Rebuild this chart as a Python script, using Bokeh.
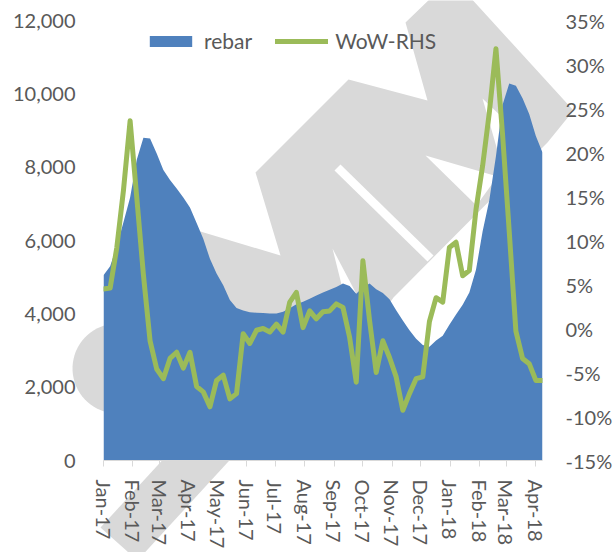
import numpy as np
import pandas as pd
from bokeh.plotting import figure
from bokeh.models import (ColumnDataSource, Range1d, LinearAxis, FixedTicker,
                          NumeralTickFormatter, DatetimeTickFormatter, Legend, GridBox, Column)
from bokeh.embed import file_html
from bokeh.resources import INLINE

# ---------------- data ----------------
start_date = "2017-01-06"
n_weeks = 67
rebar = [5050, 5300, 5850, 6500, 7170, 8200, 8800, 8780, 8370, 7920,
         7650, 7420, 7170, 6900, 6480, 6050, 5500, 5100, 4780, 4380,
         4160, 4090, 4040, 4030, 4020, 4010, 4010, 4060, 4150, 4260,
         4330, 4410, 4500, 4580, 4660, 4730, 4830, 4760, 4550, 4720,
         4830, 4670, 4570, 4400, 4100, 3820, 3550, 3320, 3150, 3100,
         3270, 3400, 3700, 3980, 4250, 4580, 5200, 6250, 7100, 8300,
         9700, 10280, 10220, 9880, 9450, 8850, 8400]
wow_pct = [4.5, 4.6, 9.2, 15.7, 23.6, 14.9, 6.1, -1.4, -4.6, -5.7,
           -3.4, -2.7, -4.5, -2.7, -6.6, -7.2, -8.9, -5.9, -5.3, -8.0,
           -7.4, -0.6, -1.7, -0.2, 0.0, -0.4, 0.5, -0.4, 3.0, 4.1,
           0.1, 2.0, 1.1, 1.9, 2.0, 2.8, 2.4, -1.0, -6.1, 7.7,
           0.9, -5.0, -1.4, -3.3, -5.5, -9.3, -7.4, -5.7, -5.5, 0.8,
           3.5, 3.0, 9.2, 9.8, 6.0, 6.6, 13.5, 18.5, 24.5, 31.8,
           22.0, 11.0, -0.3, -3.4, -4.0, -5.9, -5.9]
rebar_ticks = [0, 2000, 4000, 6000, 8000, 10000, 12000]
pct_ticks = [-15, -10, -5, 0, 5, 10, 15, 20, 25, 30, 35]
month_tick_start = "2017-01-06"
month_tick_end = "2018-04-06"

dates = pd.date_range(start_date, periods=n_weeks, freq="7D")
src = ColumnDataSource(dict(date=dates, rebar=rebar, wow=[v / 100 for v in wow_pct]))

# ---------------- styles ----------------
FONT = "Lato"
TXT = "#595959"
BLUE = "#4f81bd"
GREEN = "#9bbb59"
WM = "#d9d9d9"
W, H = 616, 552

# ---------------- background watermark (decorative, page px) ----------------
th = np.linspace(0, 2 * np.pi, 72)
wm_shapes = [
    ([(190, 228), (280, 255), (255, 172), (348, 79), (427, 100), (405, 22),
      (433, -5), (468, -5), (573, 110), (547, 142), (393, 297), (370, 330),
      (190, 330)], WM),
    ([(100, 527), (137, 560), (250, 437), (213, 404)], WM),
    (list(zip(117 + 45 * np.cos(th), 368 + 45 * np.sin(th))), WM),
    ([(340, 164), (433, 255), (427, 261), (334, 170)], "white"),
    ([(332, 248), (345, 300), (362, 305)], "white"),
    ([(425, 155), (497, 176), (476, 205)], "white"),
    ([(482, 98), (497, 150), (505, 120)], "white"),
]
bg = figure(width=W, height=H, output_backend="svg", toolbar_location=None,
            x_range=Range1d(0, W), y_range=Range1d(H, 0), min_border=0,
            x_axis_location=None, y_axis_location=None)
bg.outline_line_color = None
bg.grid.visible = False
bg.border_fill_color = "white"
bg.background_fill_color = "white"
bg.patches(xs=[[float(a) for a, b in pts] for pts, c in wm_shapes],
           ys=[[float(b) for a, b in pts] for pts, c in wm_shapes],
           fill_color=[c for pts, c in wm_shapes], line_color=None)

# ---------------- main chart ----------------
p = figure(width=W, height=H, output_backend="svg", toolbar_location=None,
           x_axis_type="datetime",
           x_range=Range1d(dates[0], dates[-1]), y_range=Range1d(0, 12000),
           min_border_left=103, min_border_right=74, min_border_top=20, min_border_bottom=92)
p.extra_y_ranges = {"wow": Range1d(-0.15, 0.35)}
p.outline_line_color = None
p.xgrid.visible = False
p.ygrid.visible = False
p.background_fill_color = None
p.border_fill_color = None

area = p.varea(x="date", y1=0, y2="rebar", source=src, fill_color=BLUE, fill_alpha=1.0)
line = p.line(x="date", y="wow", source=src, y_range_name="wow", line_color=GREEN,
              line_width=5, line_join="round", line_cap="round")

tick_ms = [t.value / 1e6 for t in pd.date_range(month_tick_start, month_tick_end,
                                                   freq=pd.DateOffset(months=1))]
xa = p.xaxis[0]
xa.ticker = FixedTicker(ticks=tick_ms)
fmt = "%b-%y"
xa.formatter = DatetimeTickFormatter(microseconds=fmt, milliseconds=fmt, seconds=fmt,
                                     minsec=fmt, minutes=fmt, hourmin=fmt, hours=fmt,
                                     days=fmt, months=fmt, years=fmt)
xa.major_label_orientation = "vertical"
xa.axis_line_color = WM
xa.major_tick_line_color = WM
xa.major_tick_out = 6
xa.major_tick_in = 0
xa.minor_tick_line_color = None
xa.major_label_standoff = 13

ya = p.yaxis[0]
ya.ticker = FixedTicker(ticks=rebar_ticks)
ya.formatter = NumeralTickFormatter(format="0,0")
ya.major_label_standoff = 28

ra = LinearAxis(y_range_name="wow", ticker=FixedTicker(ticks=[v / 100 for v in pct_ticks]),
                formatter=NumeralTickFormatter(format="0%"))
ra.major_label_standoff = 23
p.add_layout(ra, "right")

for ax in (ya, ra):
    ax.axis_line_color = None
    ax.major_tick_line_color = None
    ax.minor_tick_line_color = None
    ax.major_tick_out = 0
for ax in (xa, ya, ra):
    ax.major_label_text_font = FONT
    ax.major_label_text_font_size = "20px"
    ax.major_label_text_color = TXT

legend = Legend(items=[("rebar", [area]), ("WoW-RHS", [line])],
                orientation="horizontal", location=(41, 407),
                glyph_width=53, glyph_height=14, label_standoff=7, spacing=23,
                padding=0, margin=0,
                label_text_font=FONT, label_text_font_size="21px", label_text_color=TXT,
                background_fill_alpha=0, border_line_color=None)
p.add_layout(legend)

layout = GridBox(children=[(Column(children=[bg]), 0, 0), (Column(children=[p]), 0, 0)])

open("out.html", "w").write(file_html(layout, INLINE))
